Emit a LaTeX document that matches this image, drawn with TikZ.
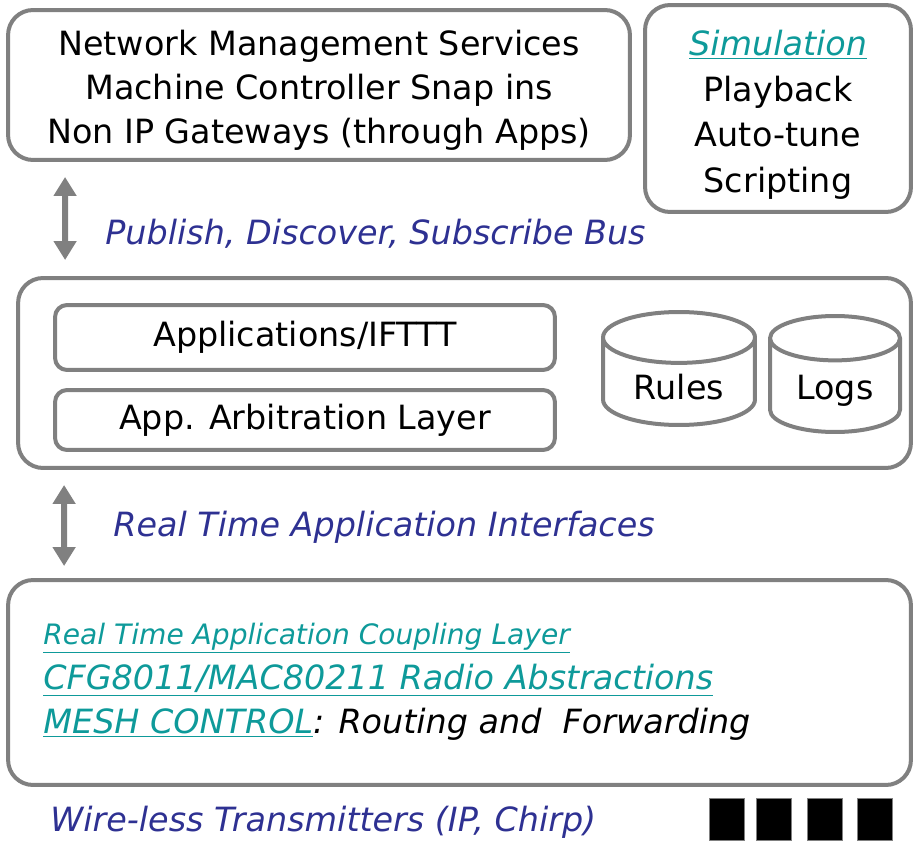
\documentclass[tikz,border=0pt]{standalone}
\usepackage{fontspec}
\setmainfont{DejaVu Sans}
\usetikzlibrary{arrows.meta,shapes.geometric}
\definecolor{edge}{HTML}{808080}
\definecolor{busblue}{HTML}{2E3192}
\definecolor{linkteal}{HTML}{0E9A9A}
\newcommand{\lnk}[1]{\textcolor{linkteal}{\underline{#1}}}
\newcommand{\bigtxt}{\fontsize{19}{25}\selectfont}
\begin{document}
\begin{tikzpicture}[x=0.02cm,y=-0.02cm,
    layer/.style={draw=edge,line width=0.08cm,rounded corners=0.5cm,
                  fill=white,align=center,font=\bigtxt},
    slab/.style={draw=edge,line width=0.08cm,rounded corners=0.24cm,
                 minimum width=10cm,font=\bigtxt},
    store/.style={cylinder,shape border rotate=90,aspect=0.5,draw=edge,
                  line width=0.08cm,font=\bigtxt,anchor=shape center},
    bus/.style={{Triangle[width=0.44cm,length=0.38cm]}-{Triangle[width=0.44cm,length=0.38cm]},
                edge,line width=0.12cm},
    tag/.style={anchor=west,text=busblue,font=\bigtxt\itshape,inner sep=0pt},
    txbox/.style={fill=black,draw=edge,line width=0.5pt,
                  minimum width=0.7cm,minimum height=0.84cm,inner sep=0pt}]
  \useasboundingbox (0,0) rectangle (915,844);
  % top row
  \node[layer,minimum width=12.44cm,minimum height=3cm] (mgmt) at (319,85)
       {\rule{0pt}{0.73cm}Network Management Services\\Machine Controller Snap ins\\
        Non IP Gateways (through Apps)};
  \node[layer,minimum width=5.32cm,minimum height=4.14cm] (sim) at (778,108.5)
       {\rule{0pt}{0.76cm}\textit{\lnk{Simulation}}\\[1pt]Playback\\[1pt]Auto-tune\\[1pt]Scripting};
  % application layer
  \node[layer,minimum width=17.86cm,minimum height=3.8cm] (mid) at (464.5,373) {};
  \node[slab,minimum height=1.3cm] (apps) at (305,337.5) {Applications/IFTTT};
  \node[slab,minimum height=1.2cm] (arb) at (305,420) {App. Arbitration Layer};
  \node[store,minimum width=3.04cm,minimum height=2.26cm] (rules) at (679,368.5) {Rules};
  \node[store,minimum width=2.6cm,minimum height=2.32cm] (logs) at (835,374) {Logs};
  % coupling layer
  \node[layer,minimum width=18.06cm,minimum height=4.1cm] (cpl) at (459.5,682.5) {};
  \node[anchor=west,inner sep=0pt,font=\fontsize{16}{19}\selectfont\itshape] (rtc) at (43,638)
       {\lnk{Real Time Application Coupling Layer}};
  \node[anchor=west,inner sep=0pt,font=\bigtxt\itshape] (radio) at (43,680)
       {\lnk{CFG8011/MAC80211 Radio Abstractions}};
  \node[anchor=west,inner sep=0pt,font=\bigtxt\itshape] (mesh) at (43,724)
       {\lnk{MESH CONTROL}: Routing and\ \ Forwarding};
  % buses
  \draw[bus] ([shift={(59,15)}]mgmt.south west) -- ([shift={(49,-16)}]mid.north west);
  \node[tag] (pdsb) at (105,234) {Publish, Discover, Subscribe Bus};
  \draw[bus] ([shift={(48,15)}]mid.south west) -- ([shift={(58,-12)}]cpl.north west);
  \node[tag] (rtai) at (113,527) {Real Time Application Interfaces};
  % transmitters
  \node[tag] (wtx) at (50,822) {Wire-less Transmitters (IP, Chirp)};
  \foreach \x [count=\i] in {727,774,825,875}
    \node[txbox] (tx\i) at (\x,819) {};
\end{tikzpicture}
\end{document}
